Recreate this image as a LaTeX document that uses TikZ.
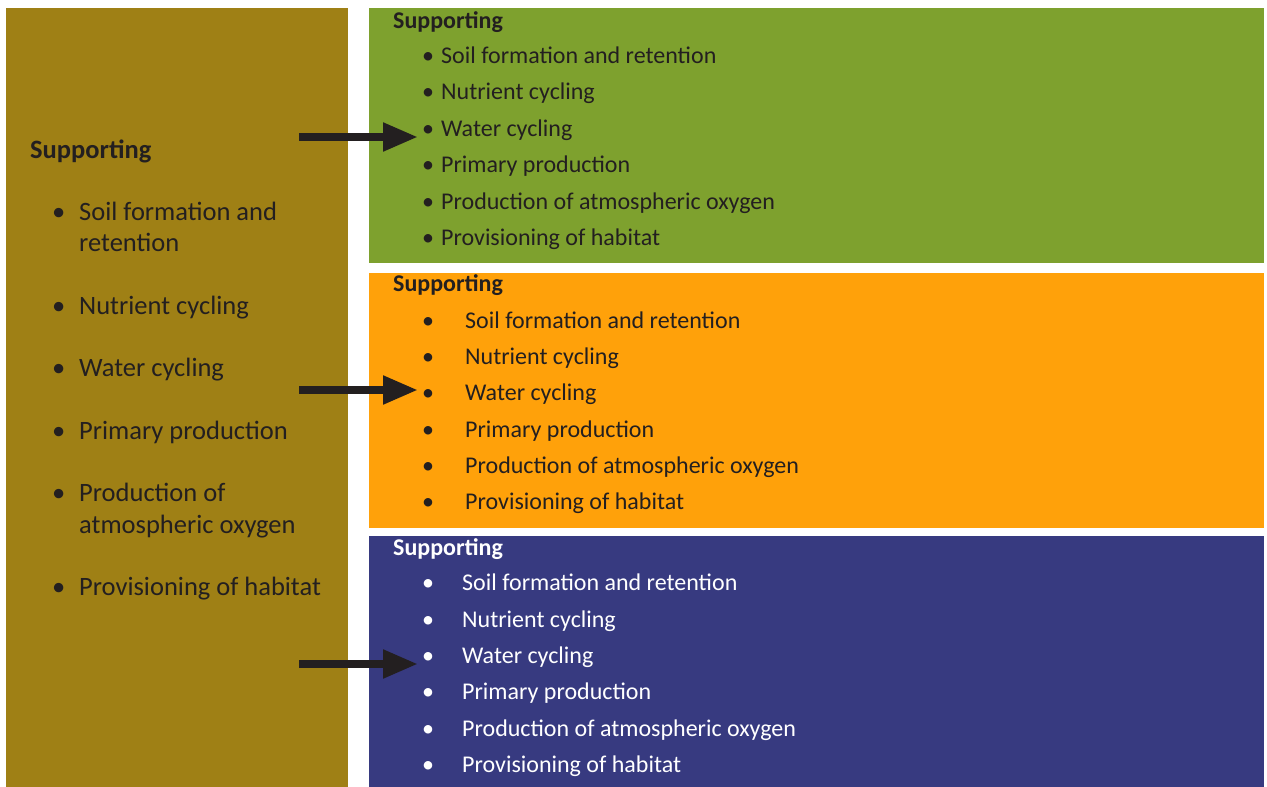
\documentclass[tikz,border=0pt]{standalone}
\usepackage{fontspec}
\setmainfont{Carlito}
\usetikzlibrary{arrows.meta}
\definecolor{olivebox}{HTML}{9F8015}
\definecolor{greenbox}{HTML}{7EA12E}
\definecolor{orangebox}{HTML}{FFA10A}
\definecolor{bluebox}{HTML}{373A80}
\definecolor{ink}{HTML}{231F20}
\tikzset{
  panel/.style={draw=none, inner sep=0pt, anchor=north west},
  big/.style={anchor=base west, inner sep=0pt, font=\fontsize{26.5}{32}\selectfont, text=ink},
  bighead/.style={big, font=\fontsize{26.5}{32}\selectfont\bfseries},
  small/.style={anchor=base west, inner sep=0pt, font=\fontsize{24}{28}\selectfont},
  smallhead/.style={small, font=\fontsize{24}{28}\selectfont\bfseries},
  arr/.style={draw=ink, line width=8pt, -{Triangle[length=35pt,width=27pt]}}
}
\begin{document}
\begin{tikzpicture}[x=1pt,y=-1pt]
\useasboundingbox (0,0) rectangle (1267,787);
% panels
\node[panel, fill=olivebox, minimum width=342pt, minimum height=779pt] (L) at (6,8) {};
\node[panel, fill=greenbox, minimum width=895pt, minimum height=255pt] (G) at (369,8) {};
\node[panel, fill=orangebox, minimum width=895pt, minimum height=255pt] (O) at (369,273) {};
\node[panel, fill=bluebox, minimum width=895pt, minimum height=251pt] (B) at (369,536) {};
% left text
\node[bighead] (lh) at (30,158) {Supporting};
\foreach \y/\t [count=\i] in {220/{Soil formation and}, 314/{Nutrient cycling}, 376/{Water cycling}, 439/{Primary production}, 501/{Production of}, 595/{Provisioning of habitat}} {
  \node[big] (lb\i) at (52,\y) {\textbullet};
  \node[big] (lt\i) at (79,\y) {\t};
}
\node[big] (lt1b) at (79,251) {retention};
\node[big] (lt5b) at (79,533) {atmospheric oxygen};
% green text
\node[smallhead, text=ink] (gh) at (393,28) {Supporting};
\foreach \y/\t [count=\i] in {63/{Soil formation and retention}, 99/{Nutrient cycling}, 136/{Water cycling}, 172/{Primary production}, 209/{Production of atmospheric oxygen}, 245/{Provisioning of habitat}} {
  \node[small, text=ink] (gb\i) at (422,\y) {\textbullet};
  \node[small, text=ink] (gt\i) at (441,\y) {\t};
}
% orange text
\node[smallhead, text=ink] (oh) at (393,291) {Supporting};
\foreach \y/\t [count=\i] in {328/{Soil formation and retention}, 364/{Nutrient cycling}, 400/{Water cycling}, 437/{Primary production}, 473/{Production of atmospheric oxygen}, 509/{Provisioning of habitat}} {
  \node[small, text=ink] (ob\i) at (422,\y) {\textbullet};
  \node[small, text=ink] (ot\i) at (465,\y) {\t};
}
% blue text
\node[smallhead, text=white] (bh) at (393,555) {Supporting};
\foreach \y/\t [count=\i] in {590/{Soil formation and retention}, 627/{Nutrient cycling}, 663/{Water cycling}, 699/{Primary production}, 736/{Production of atmospheric oxygen}, 772/{Provisioning of habitat}} {
  \node[small, text=white] (bb\i) at (422,\y) {\textbullet};
  \node[small, text=white] (bt\i) at (462,\y) {\t};
}
% arrows
\coordinate (a1s) at (299,137); \coordinate (a1e) at (418,137);
\coordinate (a2s) at (299,390); \coordinate (a2e) at (418,390);
\coordinate (a3s) at (299,664); \coordinate (a3e) at (418,664);
\draw[arr] (a1s) -- (a1e);
\draw[arr] (a2s) -- (a2e);
\draw[arr] (a3s) -- (a3e);
\end{tikzpicture}
\end{document}
